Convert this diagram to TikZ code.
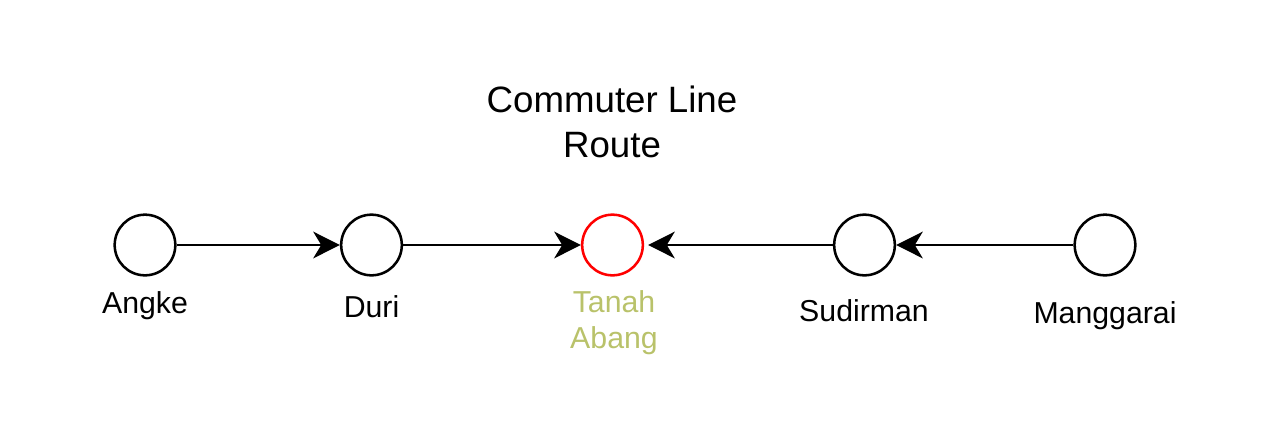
\documentclass[tikz,border=0pt]{standalone}
\usepackage{fontspec}
\setmainfont{Liberation Sans}
\usetikzlibrary{arrows.meta, positioning}

\definecolor{stationred}{RGB}{255,0,0}
\definecolor{stationgreen}{RGB}{185,194,106}

\begin{document}
\begin{tikzpicture}[x=0.75pt, y=-0.75pt, >={Stealth[length=20pt, width=20pt, inset=6pt]},
  station/.style={circle, draw, line width=1.9pt, minimum size=45.5pt, inner sep=0pt, fill=white},
  stname/.style={anchor=base, font=\fontsize{22.7pt}{27pt}\selectfont, inner sep=0pt},
  track/.style={->, line width=1.9pt}]

% Canvas
\useasboundingbox (0,0) rectangle (1272,444);

% Title (base anchor sits on the last line)
\node[anchor=base, align=center, inner sep=0pt, font=\fontsize{27.5pt}{33.75pt}\selectfont] (title) at (612,157) {Commuter Line\\Route};

% Stations
\node[station] (angke) at (145,245) {};
\node[station] (duri) at (371.5,245) {};
\node[station, draw=stationred] (tanah) at (612.5,245) {};
\node[station] (sudirman) at (864.5,245) {};
\node[station] (manggarai) at (1105,245) {};

% Station names
\node[stname] (angkelbl) at (145,313) {Angke};
\node[stname] (durilbl) at (371.5,317) {Duri};
\node[stname, align=center, text=stationgreen] (tanahlbl) at (614,348) {Tanah\\Abang};
\node[stname] (sudirmanlbl) at (864,321) {Sudirman};
\node[stname] (manggarailbl) at (1105,323) {Manggarai};

% Tracks
\draw[track] (angke) -- (duri);
\draw[track] (duri) -- (tanah);
\draw[track, shorten >=3pt] (sudirman) -- (tanah);
\draw[track] (manggarai) -- (sudirman);

\end{tikzpicture}
\end{document}
